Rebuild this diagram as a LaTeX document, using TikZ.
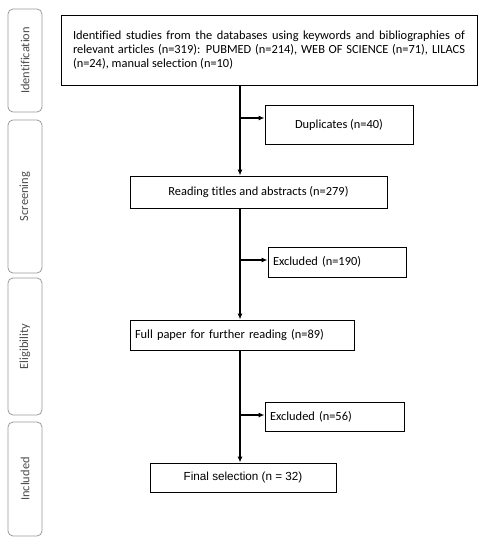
\documentclass[tikz,border=0pt]{standalone}
\usepackage{fontspec}
\setmainfont[Ligatures=NoCommon]{Carlito}
\newfontfamily\arialf{Liberation Sans}
\usetikzlibrary{arrows.meta}
\begin{document}
\begin{tikzpicture}[x=1pt,y=1pt,
  box/.style={draw, line width=1pt, inner sep=0pt, font=\fontsize{12.4}{14.3}\selectfont},
  side/.style={draw=gray!80, line width=0.8pt, rounded corners=5pt, minimum width=34pt, inner sep=0pt},
  sidetext/.style={rotate=90, text=black!70, font=\fontsize{12.4}{14}\selectfont},
  arr/.style={line width=1.1pt, -{Latex[length=6pt,width=5pt]}}]
\useasboundingbox (0,0) rectangle (486,-550);
% side stage labels
\node[side, minimum height=103pt] (sid) at (25,-60.5) {};
\node[sidetext] (tid) at (sid.center) {Identification};
\node[side, minimum height=153pt] (ssc) at (25,-196.5) {};
\node[sidetext] (tsc) at (ssc.center) {Screening};
\node[side, minimum height=137pt] (sel) at (25,-346.5) {};
\node[sidetext] (tel) at (sel.center) {Eligibility};
\node[side, minimum height=114pt] (sin) at (25,-479) {};
\node[sidetext] (tin) at (sin.center) {Included};
% boxes
\node[box, minimum width=416pt, minimum height=70pt] (top) at (269,-50) {};
\node[font=\fontsize{12.4}{14.3}\selectfont, text width=392pt, align=justify, inner sep=0pt] (toptext) at (top.center) {Identified studies from the databases using keywords and bibliographies of relevant articles (n=319): PUBMED (n=214), WEB OF SCIENCE (n=71), LILACS (n=24), manual selection (n=10)};
\node[box, minimum width=148pt, minimum height=39pt] (dup) at (339,-124.5) {Duplicates (n=40)};
\node[box, minimum width=257pt, minimum height=32pt] (read) at (258.5,-192) {Reading titles and abstracts (n=279)};
\node[box, minimum width=138pt, minimum height=30pt, text width=128pt, align=left] (ex1) at (337,-262) {Excluded (n=190)};
\node[box, minimum width=224pt, minimum height=30pt, text width=214pt, align=left] (full) at (242,-335) {Full paper for further reading (n=89)};
\node[box, minimum width=139pt, minimum height=29pt, text width=129pt, align=left] (ex2) at (334.5,-416.5) {\raisebox{-1.5pt}{Excluded (n=56)}};
\node[box, minimum width=186pt, minimum height=29pt, font=\arialf\fontsize{11.7}{13}\selectfont] (fin) at (243,-477.5) {\raisebox{-1.5pt}{Final selection (n = 32)}};
% spine coordinates
\coordinate (sp) at (240,0);
\coordinate (b1) at (240,-118);
\coordinate (b2) at (240,-260);
\coordinate (b3) at (240,-415);
% connectors
\draw[arr] (top.south -| sp) -- (read.north -| sp);
\draw[arr] (b1) -- (b1 -| dup.west);
\draw[arr] (read.south -| sp) -- (full.north -| sp);
\draw[arr] (b2) -- (b2 -| ex1.west);
\draw[arr] (full.south -| sp) -- (fin.north -| sp);
\draw[arr] (b3) -- (b3 -| ex2.west);
\end{tikzpicture}
\end{document}
